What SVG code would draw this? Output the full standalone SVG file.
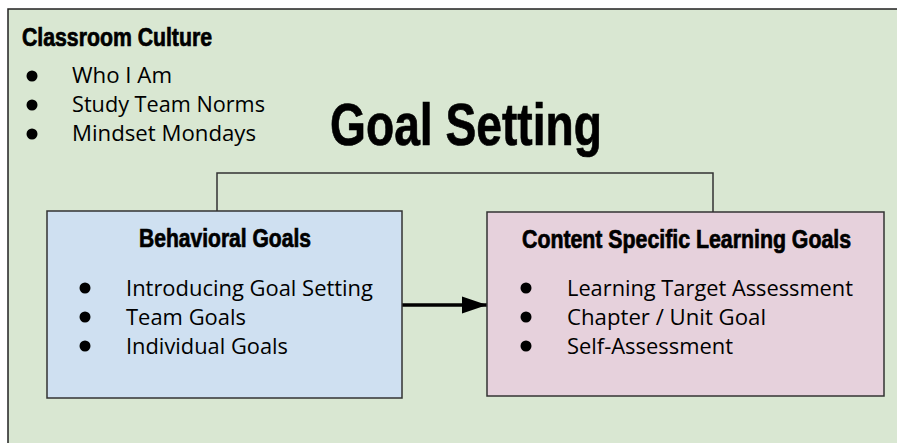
<svg xmlns="http://www.w3.org/2000/svg" width="897" height="443" viewBox="0 0 897 443">
  <defs>
    <style>
      .head { font-family: "Liberation Sans", Arial, sans-serif; font-weight: bold; fill: #000; stroke: #000; stroke-width: 0.7; }
      .body { font-family: "Open Sans", "Liberation Sans", sans-serif; font-size: 21px; fill: #000; }
      .box { stroke: #333; stroke-width: 1.5; }
      .dot { fill: #000; }
      .link { fill: none; stroke: #333; stroke-width: 1.5; }
    </style>
    <marker id="arrowhead" markerWidth="26" markerHeight="18" refX="25" refY="9" orient="auto" markerUnits="userSpaceOnUse">
      <path d="M0,0.5 L25,9 L0,17.5 Z" fill="#000"/>
    </marker>
  </defs>

  <!-- page -->
  <rect x="0" y="0" width="897" height="443" fill="#ffffff"/>
  <rect x="8" y="9" width="900" height="450" fill="#d9e7d2" stroke="#222" stroke-width="1.5"/>

  <!-- classroom culture list -->
  <g id="classroom-culture">
    <text class="head" transform="translate(22,46) scale(0.8,1)" x="0" y="0" font-size="25" textLength="237.5" lengthAdjust="spacingAndGlyphs">Classroom Culture</text>
    <circle class="dot" cx="32" cy="76" r="5.5"/>
    <circle class="dot" cx="32" cy="105" r="5.5"/>
    <circle class="dot" cx="32" cy="134" r="5.5"/>
    <text class="body" x="72" y="83" textLength="100" lengthAdjust="spacingAndGlyphs">Who I Am</text>
    <text class="body" x="72" y="112" textLength="193" lengthAdjust="spacingAndGlyphs">Study Team Norms</text>
    <text class="body" x="72" y="141" textLength="184" lengthAdjust="spacingAndGlyphs">Mindset Mondays</text>
  </g>

  <!-- title -->
  <g id="title">
    <text class="head" transform="translate(330,145) scale(0.75,1)" x="0" y="0" font-size="59" stroke-width="1.4" textLength="362.7" lengthAdjust="spacingAndGlyphs">Goal Setting</text>
  </g>

  <!-- connectors -->
  <g id="connectors">
    <polyline class="link" points="217,211 217,173 713,173 713,212"/>
    <line x1="402" y1="305" x2="487" y2="305" stroke="#000" stroke-width="3.5" marker-end="url(#arrowhead)"/>
  </g>

  <!-- behavioral goals -->
  <g id="behavioral-goals">
    <rect class="box" x="47" y="211" width="355" height="187" fill="#cfe0f1"/>
    <text class="head" transform="translate(139,247) scale(0.8,1)" x="0" y="0" font-size="25" textLength="215" lengthAdjust="spacingAndGlyphs">Behavioral Goals</text>
    <circle class="dot" cx="85" cy="288" r="5.5"/>
    <circle class="dot" cx="85" cy="317" r="5.5"/>
    <circle class="dot" cx="85" cy="346" r="5.5"/>
    <text class="body" x="126" y="296" textLength="247" lengthAdjust="spacingAndGlyphs">Introducing Goal Setting</text>
    <text class="body" x="126" y="325" textLength="120" lengthAdjust="spacingAndGlyphs">Team Goals</text>
    <text class="body" x="126" y="354" textLength="162" lengthAdjust="spacingAndGlyphs">Individual Goals</text>
  </g>

  <!-- content specific learning goals -->
  <g id="content-goals">
    <rect class="box" x="487" y="212" width="397" height="184" fill="#e6d1dc"/>
    <text class="head" transform="translate(522,248) scale(0.8,1)" x="0" y="0" font-size="25" textLength="411.25" lengthAdjust="spacingAndGlyphs">Content Specific Learning Goals</text>
    <circle class="dot" cx="526" cy="288" r="5.5"/>
    <circle class="dot" cx="526" cy="317" r="5.5"/>
    <circle class="dot" cx="526" cy="346" r="5.5"/>
    <text class="body" x="567" y="296" textLength="286" lengthAdjust="spacingAndGlyphs">Learning Target Assessment</text>
    <text class="body" x="567" y="325" textLength="199" lengthAdjust="spacingAndGlyphs">Chapter / Unit Goal</text>
    <text class="body" x="567" y="354" textLength="166" lengthAdjust="spacingAndGlyphs">Self-Assessment</text>
  </g>
</svg>
